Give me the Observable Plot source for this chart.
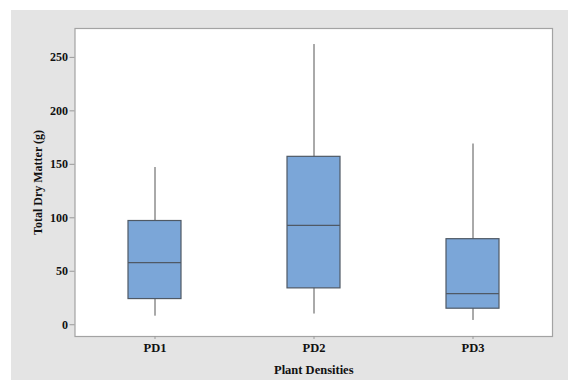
<!DOCTYPE html>
<html>
<head>
<meta charset="utf-8">
<script src="https://cdn.jsdelivr.net/npm/d3@7"></script>
<script src="https://cdn.jsdelivr.net/npm/@observablehq/plot@0.6"></script>
<style>
  html, body { margin: 0; padding: 0; background: #ffffff; }
  #wrap { position: relative; width: 568px; height: 380px; overflow: hidden; }
  #bg { position: absolute; left: 11px; top: 10px; width: 557px; height: 370px; background: #e4e4e4; }
  #chart { position: absolute; left: 0; top: 0; }
</style>
</head>
<body>
<div id="wrap"><div id="bg"></div><div id="chart"></div></div>
<script>
const categories = ["PD1", "PD2", "PD3"];
const mins    = [8, 10, 4];
const q1s     = [24, 34, 15];
const medians = [58, 93, 29];
const q3s     = [97, 157, 80];
const maxs    = [147, 262, 169];
const yTicks  = [0, 50, 100, 150, 200, 250];

const data = categories.map((c, i) => ({
  cat: c, min: mins[i], q1: q1s[i], med: medians[i], q3: q3s[i], max: maxs[i]
}));

const boxStroke = "#4f5965";
const chart = Plot.plot({
  width: 568,
  height: 380,
  marginLeft: 74.5,
  marginRight: 16,
  marginTop: 28,
  marginBottom: 44,
  style: {
    background: "transparent",
    fontFamily: "'Liberation Serif', 'Times New Roman', serif",
    fontSize: "12px",
    fontWeight: "bold",
    color: "#111"
  },
  x: { domain: categories, padding: 0, label: null },
  y: { domain: [-11, 277], label: null },
  marks: [
    Plot.frame({ fill: "white", stroke: "#a3a3a3", strokeWidth: 1.2 }),
    Plot.ruleX(data, { x: "cat", y1: "min", y2: "max", stroke: "#555", strokeWidth: 1 }),
    Plot.barY(data, { x: "cat", y1: "q1", y2: "q3", fill: "#7BA6D8", stroke: boxStroke, strokeWidth: 1.2, insetLeft: 53, insetRight: 53 }),
    Plot.tickY(data, { x: "cat", y: "med", stroke: boxStroke, strokeWidth: 1.2, insetLeft: 53, insetRight: 53 }),
    Plot.axisY({ ticks: yTicks, tickSize: 5, tickPadding: 2, stroke: "#999", label: "Total Dry Matter (g)", labelArrow: "none", labelAnchor: "center", labelOffset: 42 }),
    Plot.axisX({ tickSize: 3, tickPadding: 4, stroke: "#999", fontSize: 12.5, label: "Plant Densities", labelArrow: "none", labelAnchor: "center", labelOffset: 37 })
  ]
});
document.getElementById("chart").appendChild(chart);
</script>
</body>
</html>
